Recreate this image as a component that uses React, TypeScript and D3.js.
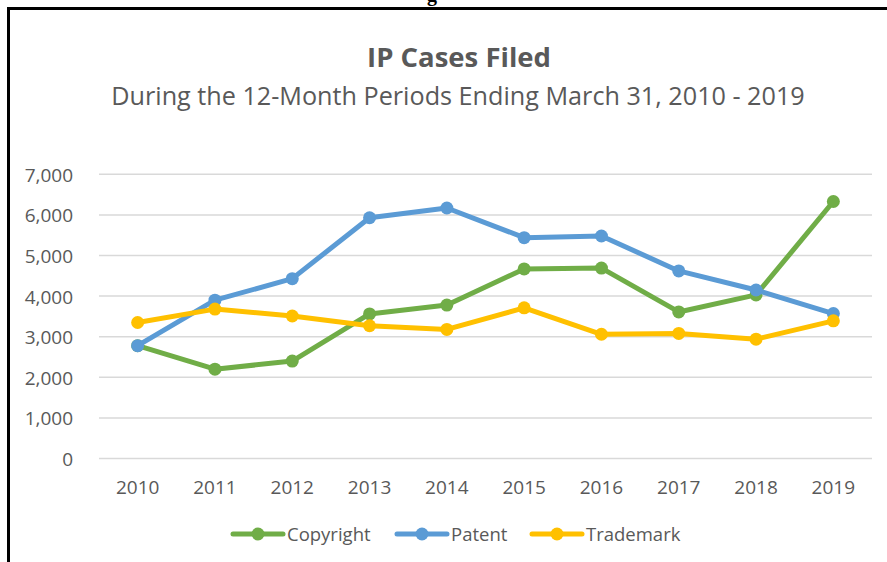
import React from "react";
import * as d3 from "d3";

const years = ["2010", "2011", "2012", "2013", "2014", "2015", "2016", "2017", "2018", "2019"];
const copyright = [2780, 2200, 2400, 3560, 3780, 4670, 4690, 3610, 4030, 6330];
const patent = [2780, 3900, 4430, 5930, 6170, 5440, 5480, 4620, 4150, 3570];
const trademark = [3350, 3680, 3510, 3270, 3180, 3710, 3060, 3080, 2940, 3390];
const yTicks = [0, 1000, 2000, 3000, 4000, 5000, 6000, 7000];
const seriesNames = ["Copyright", "Patent", "Trademark"];
const seriesColors = ["#70AD47", "#5B9BD5", "#FFC000"];

const W = 887;
const H = 562;
const FONT = "'Open Sans', sans-serif";
const TEXT = "#595959";

export default function App() {
  const x = d3.scaleBand<string>().domain(years).range([99, 872]);
  const y = d3.scaleLinear().domain([0, 7000]).range([458.5, 174.3]);
  const cx = (yr: string) => (x(yr) as number) + x.bandwidth() / 2;
  const series = [copyright, patent, trademark];
  const line = d3
    .line<number>()
    .x((_, i) => cx(years[i]))
    .y((v) => y(v));
  const fmt = d3.format(",");
  const legendX = [233, 397, 532];
  const legendY = 534;

  return (
    <svg
      width={W}
      height={H}
      style={{ position: "fixed", left: 0, top: 0, background: "#fff" }}
    >
      <rect x={0} y={0} width={W} height={H} fill="#fff" />
      <text
        x={432}
        y={1}
        textAnchor="middle"
        fontFamily="'Liberation Serif', serif"
        fontWeight="bold"
        fontSize={20}
        fill="#000"
      >
        g
      </text>
      <line x1={8.5} y1={8.5} x2={W} y2={8.5} stroke="#000" strokeWidth={3} />
      <line x1={8.5} y1={7} x2={8.5} y2={H} stroke="#000" strokeWidth={3} />

      <text x={459} y={67} textAnchor="middle" fontFamily={FONT} fontWeight="bold" fontSize={27.5} fill={TEXT}>
        IP Cases Filed
      </text>
      <text x={458} y={105} textAnchor="middle" fontFamily={FONT} fontSize={25.2} fill={TEXT}>
        During the 12-Month Periods Ending March 31, 2010 - 2019
      </text>

      {yTicks.map((t) => (
        <g key={t}>
          <line x1={99} x2={872} y1={y(t)} y2={y(t)} stroke="#D9D9D9" strokeWidth={1.5} />
          <text x={73} y={y(t) + 7.5} textAnchor="end" fontFamily={FONT} fontSize={19} fill={TEXT}>
            {fmt(t)}
          </text>
        </g>
      ))}

      {years.map((yr) => (
        <text key={yr} x={cx(yr)} y={494} textAnchor="middle" fontFamily={FONT} fontSize={19} fill={TEXT}>
          {yr}
        </text>
      ))}

      {series.map((s, k) => (
        <g key={seriesNames[k]}>
          <path d={line(s) as string} fill="none" stroke={seriesColors[k]} strokeWidth={5} strokeLinejoin="round" strokeLinecap="round" />
          {s.map((v, i) => (
            <circle key={i} cx={cx(years[i])} cy={y(v)} r={6.5} fill={seriesColors[k]} />
          ))}
        </g>
      ))}

      {seriesNames.map((n, k) => (
        <g key={n}>
          <line x1={legendX[k]} x2={legendX[k] + 50} y1={legendY} y2={legendY} stroke={seriesColors[k]} strokeWidth={5} strokeLinecap="round" />
          <circle cx={legendX[k] + 25} cy={legendY} r={6.5} fill={seriesColors[k]} />
          <text x={legendX[k] + 54} y={legendY + 7} fontFamily={FONT} fontSize={18.5} fill={TEXT}>
            {n}
          </text>
        </g>
      ))}
    </svg>
  );
}
